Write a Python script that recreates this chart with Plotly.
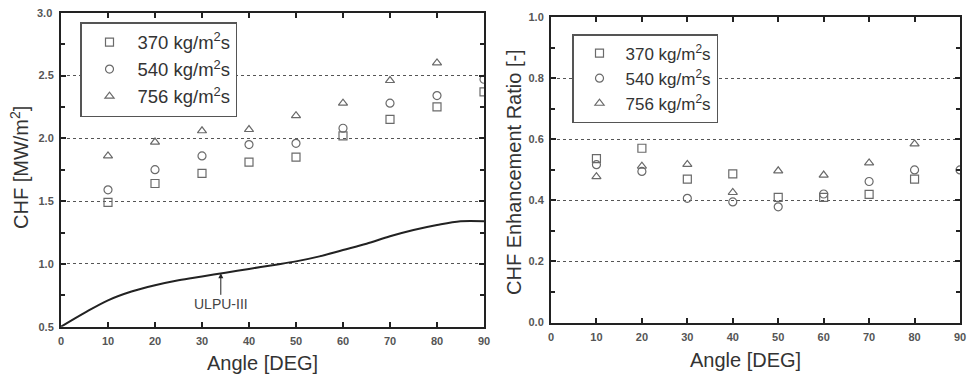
import plotly.graph_objects as go

angles = [10, 20, 30, 40, 50, 60, 70, 80, 90]
angles_756 = [10, 20, 30, 40, 50, 60, 70, 80]

chf_370 = [1.49, 1.64, 1.72, 1.81, 1.85, 2.02, 2.15, 2.25, 2.37]
chf_540 = [1.59, 1.75, 1.86, 1.95, 1.96, 2.08, 2.28, 2.34, 2.47]
chf_756 = [1.86, 1.97, 2.06, 2.07, 2.18, 2.28, 2.46, 2.60]

ulpu_angle = [0, 5, 10, 15, 20, 25, 30, 35, 40, 45, 50, 55, 60, 65, 70, 75, 80, 85, 90]
ulpu_chf = [0.50, 0.61, 0.71, 0.78, 0.83, 0.87, 0.90, 0.93, 0.96, 0.99, 1.02, 1.06, 1.11, 1.16, 1.22, 1.27, 1.31, 1.34, 1.34]

ratio_angles_370 = [10, 20, 30, 40, 50, 60, 70, 80]
ratio_370 = [0.537, 0.571, 0.47, 0.487, 0.41, 0.41, 0.42, 0.47]
ratio_angles_540 = [10, 20, 30, 40, 50, 60, 70, 80, 90]
ratio_540 = [0.517, 0.495, 0.407, 0.395, 0.379, 0.421, 0.462, 0.50, 0.50]
ratio_angles_756 = [10, 20, 30, 40, 50, 60, 70, 80]
ratio_756 = [0.478, 0.512, 0.518, 0.426, 0.497, 0.483, 0.523, 0.585]

series_names = ["370 kg/m<sup>2</sup>s", "540 kg/m<sup>2</sup>s", "756 kg/m<sup>2</sup>s"]
symbols = ["square-open", "circle-open", "triangle-up-open"]

FONT = "Liberation Sans, Arial, sans-serif"
MCOL = "#6a6a6a"

fig = go.Figure()

left = [(angles, chf_370), (angles, chf_540), (angles_756, chf_756)]
for (xs, ys), nm, sym in zip(left, series_names, symbols):
    fig.add_trace(go.Scatter(x=xs, y=ys, mode="markers", name=nm, legend="legend",
                             marker=dict(symbol=sym, size=8, color=MCOL, line=dict(width=1.2, color=MCOL)),
                             xaxis="x", yaxis="y"))
fig.add_trace(go.Scatter(x=ulpu_angle, y=ulpu_chf, mode="lines", showlegend=False,
                         line=dict(color="#222222", width=2, shape="spline", smoothing=1.0),
                         xaxis="x", yaxis="y"))

right = [(ratio_angles_370, ratio_370), (ratio_angles_540, ratio_540), (ratio_angles_756, ratio_756)]
for (xs, ys), nm, sym in zip(right, series_names, symbols):
    fig.add_trace(go.Scatter(x=xs, y=ys, mode="markers", name=nm, legend="legend2",
                             marker=dict(symbol=sym, size=8, color=MCOL, line=dict(width=1.2, color=MCOL)),
                             xaxis="x2", yaxis="y2"))

# page body has an 8px margin; figure is sized/offset to compensate
OFF = 8
W, H = 975 - OFF, 378 - OFF
def px_x(p): return (p - OFF) / W
def px_y(p): return 1 - (p - OFF) / H

tickfont = dict(family=FONT, size=11, color="#555555", weight="bold")

def xax(domain, anchor):
    return dict(domain=domain, anchor=anchor, range=[0, 90], tickmode="linear", tick0=0, dtick=10,
                ticks="inside", ticklen=5, tickwidth=1.5, tickcolor="#222",
                showline=True, linewidth=2, linecolor="#222", mirror="ticks",
                showgrid=False, zeroline=False, tickfont=tickfont, automargin=False, fixedrange=True,
                ticklabelstandoff=3)

def yax(domain, anchor, rng, dtick):
    return dict(domain=domain, anchor=anchor, range=rng, tickmode="linear", tick0=rng[0], dtick=dtick,
                ticks="inside", ticklen=5, tickwidth=1.5, tickcolor="#222",
                showline=True, linewidth=2, linecolor="#222", mirror="ticks",
                showgrid=True, gridcolor="#555555", griddash="dot", gridwidth=1,
                zeroline=False, tickfont=tickfont, automargin=False, tickformat=".1f",
                minor=dict(ticks="inside", ticklen=4, tickwidth=1.5, tickcolor="#222", dtick=dtick / 2, showgrid=False),
                fixedrange=True, ticklabelstandoff=3)

fig.update_layout(
    width=W, height=H,
    margin=dict(l=0, r=0, t=0, b=0),
    paper_bgcolor="white", plot_bgcolor="white",
    xaxis=xax([px_x(61), px_x(484)], "y"),
    yaxis=yax([px_y(326.7), px_y(12.7)], "x", [0.5, 3.0], 0.5),
    xaxis2=xax([px_x(551), px_x(960)], "y2"),
    yaxis2=yax([px_y(322.5), px_y(17.3)], "x2", [0.0, 1.0], 0.2),
    legend=dict(x=px_x(80), y=px_y(22), xanchor="left", yanchor="top", bgcolor="white",
                bordercolor="#555555", borderwidth=1.5,
                font=dict(family=FONT, size=18.5, color="#333333"), itemsizing="trace",
                tracegroupgap=0, itemwidth=46),
    legend2=dict(x=px_x(572), y=px_y(34), xanchor="left", yanchor="top", bgcolor="white",
                 bordercolor="#555555", borderwidth=1.5,
                 font=dict(family=FONT, size=17, color="#333333"), itemsizing="trace",
                 tracegroupgap=0, itemwidth=42),
    showlegend=True,
)

# top tick label of the left y axis sits at the very page edge
fig.add_annotation(text="3.0", xref="paper", yref="paper", x=px_x(53.5), y=px_y(12.7),
                   showarrow=False, font=tickfont, xanchor="right", yanchor="middle")

titlefont = dict(family=FONT, size=20, color="#333333")
fig.add_annotation(text="Angle [DEG]", xref="paper", yref="paper", x=px_x(262), y=px_y(363),
                   showarrow=False, font=titlefont, xanchor="center", yanchor="middle")
fig.add_annotation(text="Angle [DEG]", xref="paper", yref="paper", x=px_x(745), y=px_y(360),
                   showarrow=False, font=titlefont, xanchor="center", yanchor="middle")
fig.add_annotation(text="CHF [MW/m<sup>2</sup>]", xref="paper", yref="paper", x=px_x(19), y=px_y(168),
                   showarrow=False, font=titlefont, textangle=-90, xanchor="center", yanchor="middle")
fig.add_annotation(text="CHF Enhancement Ratio [-]", xref="paper", yref="paper", x=px_x(514), y=px_y(172),
                   showarrow=False, font=titlefont, textangle=-90, xanchor="center", yanchor="middle")
fig.add_annotation(text="ULPU-III", xref="x", yref="y", x=34, y=0.925, ax=0, ay=31,
                   showarrow=True, arrowhead=2, arrowsize=1, arrowwidth=1, arrowcolor="#222",
                   font=dict(family=FONT, size=14, color="#444444"))

fig.write_html("out.html")
